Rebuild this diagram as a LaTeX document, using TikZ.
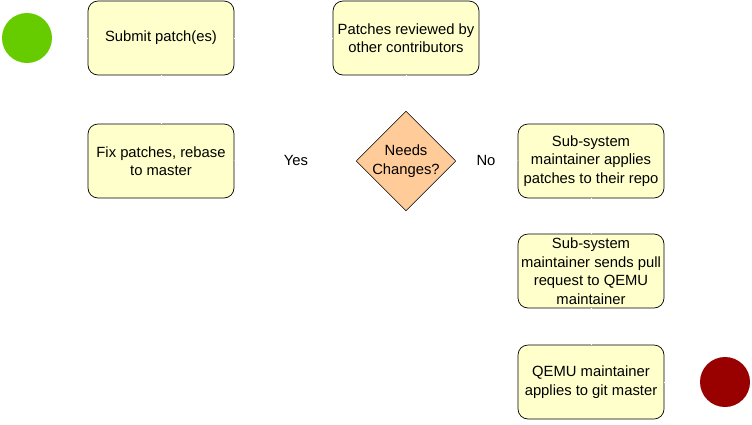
\documentclass[tikz,border=0pt]{standalone}
\usepackage{fontspec}
\setmainfont{Liberation Sans}
\usetikzlibrary{shapes.geometric,arrows.meta}
\definecolor{boxfill}{HTML}{FFFFCC}
\definecolor{decfill}{HTML}{FFCC99}
\definecolor{startgreen}{HTML}{66CC00}
\definecolor{endred}{HTML}{990000}
\tikzset{
  stepbox/.style={draw=black, fill=boxfill, rounded corners=10pt, minimum width=146pt, minimum height=74pt, align=center, font=\fontsize{14.8}{18.5}\selectfont, inner sep=0pt, line width=0.7pt},
  decision/.style={diamond, draw=black, fill=decfill, minimum width=97pt, minimum height=97pt, inner sep=0pt, align=center, font=\fontsize{14.8}{18.5}\selectfont, line width=0.5pt},
  lbl/.style={font=\fontsize{14.8}{18.5}\selectfont},
  conn/.style={draw=white, line width=0.5pt}
}
\begin{document}
\begin{tikzpicture}[x=1pt,y=-1pt]
\useasboundingbox (0,0) rectangle (752,424);
\node[circle, fill=startgreen, minimum size=50pt, inner sep=0pt] (start) at (27,38) {};
\node[stepbox] (submit) at (161,38) {Submit patch(es)};
\node[stepbox] (review) at (406,38) {Patches reviewed by\\other contributors};
\node[stepbox] (fix) at (161,161) {Fix patches, rebase\\to master};
\node[decision] (dec) at (406,161) {Needs\\Changes?};
\node[stepbox] (apply) at (591,161) {Sub-system\\maintainer applies\\patches to their repo};
\node[stepbox] (pull) at (591,271) {Sub-system\\maintainer sends pull\\request to QEMU\\maintainer};
\node[stepbox] (git) at (591,382) {QEMU maintainer\\applies to git master};
\node[circle, fill=endred, minimum size=50pt, inner sep=0pt] (end) at (725,382) {};
\node[lbl] (yes) at (296,160) {Yes};
\node[lbl] (no) at (486,160) {No};
\path[conn] (start) -- (submit);
\path[conn] (submit) -- (review);
\path[conn] (review) -- (dec);
\path[conn] (dec) -- (yes) -- (fix);
\path[conn] (fix) -- (submit);
\path[conn] (dec) -- (no) -- (apply);
\path[conn] (apply) -- (pull);
\path[conn] (pull) -- (git);
\path[conn] (git) -- (end);
\end{tikzpicture}
\end{document}
